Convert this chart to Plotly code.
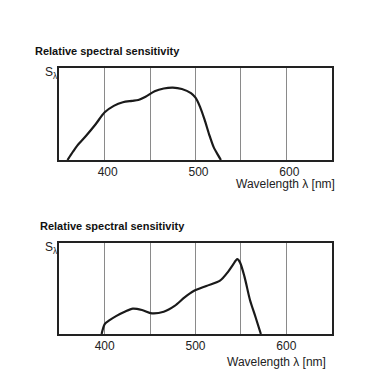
import plotly.graph_objects as go

# Top chart: relative spectral sensitivity (blue-ish sensor)
top_nm = [359, 365, 370, 380, 390, 400, 410, 420, 430, 437, 445, 455, 465, 475, 485, 495, 500, 505, 510, 515, 520, 525, 528]
top_s = [0.0, 0.09, 0.16, 0.27, 0.39, 0.52, 0.59, 0.63, 0.645, 0.655, 0.69, 0.75, 0.78, 0.79, 0.775, 0.73, 0.68, 0.58, 0.44, 0.28, 0.14, 0.05, 0.0]

# Bottom chart: relative spectral sensitivity (green sensor)
bot_nm = [396.6, 400, 405, 413, 422, 431, 441, 452, 465, 477, 488, 498, 512, 527, 536, 541, 546, 549, 554, 560, 566, 572]
bot_s = [0.0, 0.11, 0.15, 0.2, 0.245, 0.28, 0.265, 0.228, 0.246, 0.31, 0.404, 0.474, 0.53, 0.588, 0.688, 0.76, 0.825, 0.79, 0.63, 0.375, 0.19, 0.0]

tick_vals = [400, 500, 600]
tick_text = ["400", "500", "600"]
minor_grid_vals = [450, 550]
x_range = [350, 650]

title_text = "<b>Relative spectral sensitivity</b>"
y_label = "S<sub>λ</sub>"
x_label = "Wavelength λ [nm]"

OFF = 8  # page body margin
W, H = 376 - OFF, 391 - OFF
FONT = "Liberation Sans, Arial, sans-serif"

def px(x):
    return (x - OFF) / W

def py(y):
    return 1 - (y - OFF) / H

fig = go.Figure()
fig.add_trace(go.Scatter(x=top_nm, y=top_s, mode="lines", line=dict(color="#1a1a1a", width=2.2, shape="spline", smoothing=0.8),
                         xaxis="x", yaxis="y", showlegend=False, hoverinfo="skip"))
fig.add_trace(go.Scatter(x=bot_nm, y=bot_s, mode="lines", line=dict(color="#1a1a1a", width=2.2, shape="spline", smoothing=0.8),
                         xaxis="x2", yaxis="y2", showlegend=False, hoverinfo="skip"))

xcommon = dict(range=x_range, tickvals=tick_vals, ticktext=tick_text, showgrid=True, gridcolor="#8a8a8a", gridwidth=1,
               minor=dict(tickvals=minor_grid_vals, showgrid=True, gridcolor="#8a8a8a", gridwidth=1, ticks=""),
               showline=True, mirror=True, linecolor="#222222", linewidth=1.5, ticks="", zeroline=False,
               tickfont=dict(family=FONT, size=12, color="#222222"), fixedrange=True)
ycommon = dict(range=[0, 1], showgrid=False, showline=True, mirror=True, linecolor="#222222", linewidth=1.5,
               showticklabels=False, ticks="", zeroline=False, fixedrange=True)

fig.update_layout(
    width=W, height=H, margin=dict(l=0, r=0, t=0, b=0),
    paper_bgcolor="white", plot_bgcolor="white",
    xaxis=dict(domain=[px(59.3), px(331.7)], anchor="y", ticklabelshift=3, **xcommon),
    yaxis=dict(domain=[py(160), py(68.3)], anchor="x", **ycommon),
    xaxis2=dict(domain=[px(59.3), px(331.7)], anchor="y2", **xcommon),
    yaxis2=dict(domain=[py(334), py(243.3)], anchor="x2", **ycommon),
    font=dict(family=FONT, color="#222222"),
)

ann = []
for (tx, ty, sx, sy, wx, wy) in [(32.7, 50.7, 42.7, 73, 336.7, 184), (38.3, 225.7, 43.3, 248, 328, 361.7)]:
    ann.append(dict(text=title_text, x=px(tx), y=py(ty), xref="paper", yref="paper", xanchor="left", yanchor="middle",
                    showarrow=False, font=dict(size=11, family=FONT, color="#111111")))
    ann.append(dict(text=y_label, x=px(sx), y=py(sy), xref="paper", yref="paper", xanchor="left", yanchor="middle",
                    showarrow=False, font=dict(size=12, family=FONT, color="#222222")))
    ann.append(dict(text=x_label, x=px(wx), y=py(wy), xref="paper", yref="paper", xanchor="right", yanchor="middle",
                    showarrow=False, font=dict(size=12, family=FONT, color="#222222")))
fig.update_layout(annotations=ann)

fig.write_html("out.html", config={"displayModeBar": False})
